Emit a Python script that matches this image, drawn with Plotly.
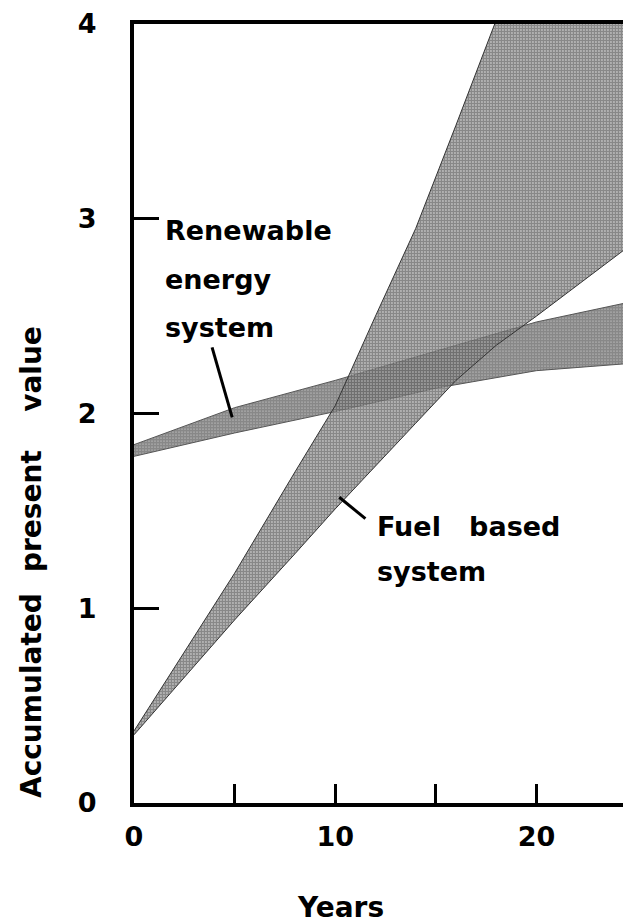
import plotly.graph_objects as go

# band edges (years -> accumulated present value)
fuel_years = [0, 5, 8, 10, 12, 14, 16, 18, 20, 25]
fuel_low = [0.35, 0.94, 1.28, 1.51, 1.73, 1.95, 2.17, 2.35, 2.50, 2.89]
fuel_high = [0.37, 1.18, 1.70, 2.04, 2.50, 2.95, 3.48, 4.02, 4.60, 6.20]

renew_years = [0, 5, 10, 15, 20, 25]
renew_low = [1.78, 1.90, 2.01, 2.13, 2.22, 2.26]
renew_high = [1.84, 2.03, 2.17, 2.32, 2.47, 2.58]

x_ticks = [0, 5, 10, 15, 20]
x_labels = ["0", "", "10", "", "20"]
y_ticks = [0, 1, 2, 3, 4]
y_labels = ["0", "1", "2", "3", "4"]

FONT = dict(family="DejaVu Sans", size=27, color="black", weight="bold")
TITLE_FONT = dict(FONT, size=28)


def band(years, low, high, solidity, edge, bg):
    return go.Scatter(
        x=years + years[::-1],
        y=high + low[::-1],
        mode="lines",
        fill="toself",
        fillcolor="rgba(0,0,0,0)",
        fillpattern=dict(shape=".", size=3, solidity=solidity,
                         fgcolor="#111111", bgcolor=bg),
        line=dict(color=edge, width=1),
        hoverinfo="skip",
        showlegend=False,
    )


fig = go.Figure()
fig.add_trace(band(renew_years, renew_low, renew_high, 0.85, "#555555", "rgba(0,0,0,0)"))
# the fuel screen sits on top and mostly hides the renewable screen underneath
fig.add_trace(band(fuel_years, fuel_low, fuel_high, 0.8, "#333333", "rgba(255,255,255,0.6)"))

# pointer lines to the labels
fig.add_trace(go.Scatter(x=[3.88, 4.88], y=[2.34, 1.98], mode="lines",
                         line=dict(color="black", width=3), showlegend=False, hoverinfo="skip"))
fig.add_trace(go.Scatter(x=[10.2, 11.5], y=[1.57, 1.46], mode="lines",
                         line=dict(color="black", width=3), showlegend=False, hoverinfo="skip"))

labels = [
    ("Renewable", 1.44, 2.94),
    ("energy", 1.44, 2.69),
    ("system", 1.44, 2.44),
    ("Fuel\u00a0\u00a0\u00a0based", 12.0, 1.42),
    ("system", 12.0, 1.19),
]
for txt, lx, ly in labels:
    fig.add_annotation(x=lx, y=ly, text=txt, showarrow=False, xanchor="left",
                       yanchor="middle", font=FONT)

# axis titles
fig.add_annotation(x=10.25, y=-0.1336, xref="x", yref="paper", text="Years",
                   xanchor="center", yanchor="middle", showarrow=False, font=TITLE_FONT)
for word, wy in [("Accumulated", 0.55), ("present", 1.50), ("value", 2.23)]:
    fig.add_annotation(x=-0.205, y=wy, xref="paper", yref="y", text=word,
                       xanchor="center", yanchor="middle",
                       textangle=-90, showarrow=False, font=TITLE_FONT)

fig.update_xaxes(
    range=[0, 24.7], tickvals=x_ticks, ticktext=x_labels,
    ticks="inside", ticklen=19, tickwidth=3, tickcolor="black",
    showline=True, linewidth=4, linecolor="black", mirror=True,
    showgrid=False, zeroline=False, tickfont=FONT, ticklabelstandoff=7,
    ticklabeloverflow="allow",
)
fig.update_yaxes(
    range=[0, 4], tickvals=y_ticks, ticktext=y_labels,
    ticks="inside", ticklen=25, tickwidth=3, tickcolor="black",
    showline=True, linewidth=4, linecolor="black",
    showgrid=False, zeroline=False, tickfont=FONT, ticklabelstandoff=28,
    ticklabeloverflow="allow",
)
# page body adds an 8px margin, so the figure is trimmed to match the scan
fig.update_layout(
    width=623, height=916,
    margin=dict(l=126, r=0, t=9, b=121),
    paper_bgcolor="white", plot_bgcolor="white",
    showlegend=False,
)

fig.write_html("out.html")
